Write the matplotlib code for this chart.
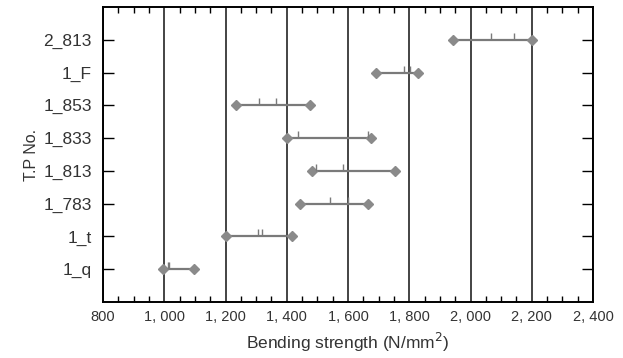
import matplotlib
matplotlib.use("Agg")
import matplotlib.pyplot as plt
from matplotlib.ticker import MultipleLocator, FuncFormatter

labels = ["1_q", "1_t", "1_783", "1_813", "1_833", "1_853", "1_F", "2_813"]
mins = [995, 1200, 1443, 1483, 1402, 1234, 1691, 1942]
maxs = [1097, 1418, 1664, 1753, 1675, 1476, 1828, 2200]
tick1 = [1013, 1307, 1541, 1495, 1436, 1309, 1783, 2066]
tick2 = [1016, 1320, 1600, 1585, 1665, 1364, 1802, 2143]

plt.rcParams['font.family'] = ['Liberation Sans', 'DejaVu Sans']
fig = plt.figure(figsize=(6.23, 3.58), dpi=100)
ax = fig.add_axes([103/623, 1-302/358, 490/623, 295/358])

gray = "#7a7a7a"
for i in range(len(labels)):
    ax.plot([mins[i], maxs[i]], [i, i], color=gray, lw=1.6, zorder=3)
    ax.plot([mins[i], maxs[i]], [i, i], ls="none", marker="D", ms=5.5,
            color="#8a8a8a", zorder=4)
    ax.plot([tick1[i], tick2[i]], [i, i], ls="none", marker=2, ms=5,
            mew=1.0, color=gray, zorder=4)

ax.set_xlim(800, 2400)
ax.set_ylim(-1, 8)
ax.set_yticks(range(len(labels)))
ax.set_yticklabels(labels, fontsize=12.5, color="#333333")
ax.xaxis.set_major_locator(MultipleLocator(200))
ax.xaxis.set_minor_locator(MultipleLocator(50))
ax.xaxis.set_major_formatter(FuncFormatter(
    lambda v, p: f"{int(v):,}".replace(",", ", ") if v >= 1000 else f"{int(v)}"))
ax.tick_params(axis='x', which='major', labelsize=10.5, labelcolor="#333333",
               direction='in', length=0, top=True, pad=6)
ax.tick_params(axis='x', which='minor', direction='in', length=4.5, width=1,
               top=True, bottom=True)
ax.tick_params(axis='y', which='major', direction='in', length=8, width=1,
               left=True, right=True, pad=8)
ax.grid(axis='x', which='major', color='#111111', lw=1.1)
for s in ax.spines.values():
    s.set_linewidth(1.4)
ax.set_xlabel("Bending strength (N/mm$^2$)", fontsize=12.5, color="#333333",
              labelpad=5)
ax.set_ylabel("T.P No.", fontsize=11.5, color="#333333", labelpad=3)

fig.savefig("out.png", dpi=100)
